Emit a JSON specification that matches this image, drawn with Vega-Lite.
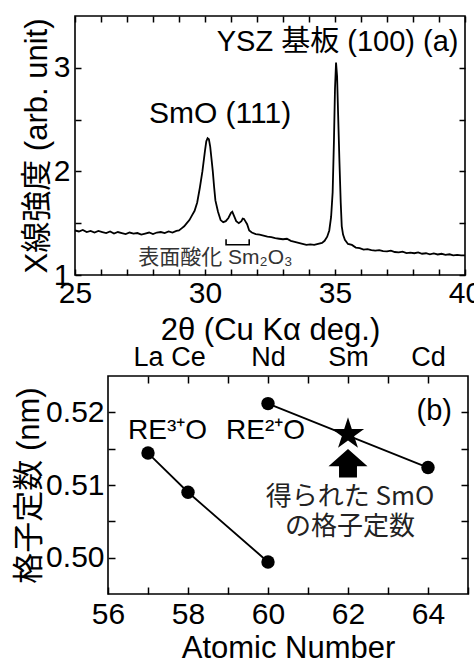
{
  "$schema": "https://vega.github.io/schema/vega-lite/v6.json",
  "padding": {"left": 13, "top": 14, "right": 4, "bottom": 0},
  "spacing": -3,
  "columns": 1,
  "align": "none",
  "config": {
    "font": "Liberation Sans, Noto Sans CJK JP, sans-serif",
    "view": {"stroke": "black", "strokeWidth": 1.6},
    "axis": {
      "grid": false,
      "domain": false,
      "tickColor": "black",
      "tickWidth": 1.5,
      "tickSize": -6,
      "labelColor": "black",
      "titleColor": "black",
      "labelFont": "Liberation Sans, Noto Sans CJK JP, sans-serif",
      "titleFont": "Liberation Sans, Noto Sans CJK JP, sans-serif",
      "titleFontWeight": "normal",
      "labelFontSize": 30,
      "titleFontSize": 31,
      "labelPadding": 11
    },
    "text": {"font": "Liberation Sans, Noto Sans CJK JP, sans-serif", "color": "black"}
  },
  "datasets": {
    "xrd": [
      {"two_theta": 25.0, "intensity": 1.43},
      {"two_theta": 25.15, "intensity": 1.42},
      {"two_theta": 25.3, "intensity": 1.435},
      {"two_theta": 25.45, "intensity": 1.415},
      {"two_theta": 25.6, "intensity": 1.425},
      {"two_theta": 25.75, "intensity": 1.41},
      {"two_theta": 25.9, "intensity": 1.425},
      {"two_theta": 26.05, "intensity": 1.415},
      {"two_theta": 26.2, "intensity": 1.405},
      {"two_theta": 26.35, "intensity": 1.42},
      {"two_theta": 26.5, "intensity": 1.40},
      {"two_theta": 26.65, "intensity": 1.415},
      {"two_theta": 26.8, "intensity": 1.405},
      {"two_theta": 26.95, "intensity": 1.395},
      {"two_theta": 27.1, "intensity": 1.41},
      {"two_theta": 27.25, "intensity": 1.40},
      {"two_theta": 27.4, "intensity": 1.405},
      {"two_theta": 27.55, "intensity": 1.39},
      {"two_theta": 27.7, "intensity": 1.40},
      {"two_theta": 27.85, "intensity": 1.41},
      {"two_theta": 28.0, "intensity": 1.395},
      {"two_theta": 28.15, "intensity": 1.41},
      {"two_theta": 28.3, "intensity": 1.415},
      {"two_theta": 28.45, "intensity": 1.405},
      {"two_theta": 28.6, "intensity": 1.42},
      {"two_theta": 28.75, "intensity": 1.41},
      {"two_theta": 28.9, "intensity": 1.425},
      {"two_theta": 29.0, "intensity": 1.43},
      {"two_theta": 29.1, "intensity": 1.45},
      {"two_theta": 29.2, "intensity": 1.47},
      {"two_theta": 29.3, "intensity": 1.50},
      {"two_theta": 29.4, "intensity": 1.53},
      {"two_theta": 29.5, "intensity": 1.575},
      {"two_theta": 29.6, "intensity": 1.62},
      {"two_theta": 29.7, "intensity": 1.70},
      {"two_theta": 29.8, "intensity": 1.84},
      {"two_theta": 29.9, "intensity": 2.00},
      {"two_theta": 30.0, "intensity": 2.20},
      {"two_theta": 30.05, "intensity": 2.29},
      {"two_theta": 30.1, "intensity": 2.32},
      {"two_theta": 30.15, "intensity": 2.31},
      {"two_theta": 30.2, "intensity": 2.24},
      {"two_theta": 30.25, "intensity": 2.12},
      {"two_theta": 30.3, "intensity": 2.00},
      {"two_theta": 30.35, "intensity": 1.85},
      {"two_theta": 30.4, "intensity": 1.72},
      {"two_theta": 30.5, "intensity": 1.61},
      {"two_theta": 30.6, "intensity": 1.53},
      {"two_theta": 30.7, "intensity": 1.51},
      {"two_theta": 30.8, "intensity": 1.52},
      {"two_theta": 30.9, "intensity": 1.55},
      {"two_theta": 31.0, "intensity": 1.60},
      {"two_theta": 31.05, "intensity": 1.61},
      {"two_theta": 31.1, "intensity": 1.58},
      {"two_theta": 31.2, "intensity": 1.52},
      {"two_theta": 31.3, "intensity": 1.50},
      {"two_theta": 31.4, "intensity": 1.52},
      {"two_theta": 31.45, "intensity": 1.545},
      {"two_theta": 31.5, "intensity": 1.54},
      {"two_theta": 31.55, "intensity": 1.52},
      {"two_theta": 31.62, "intensity": 1.49},
      {"two_theta": 31.7, "intensity": 1.43},
      {"two_theta": 31.8, "intensity": 1.41},
      {"two_theta": 31.95, "intensity": 1.395},
      {"two_theta": 32.1, "intensity": 1.39},
      {"two_theta": 32.25, "intensity": 1.38},
      {"two_theta": 32.4, "intensity": 1.37},
      {"two_theta": 32.55, "intensity": 1.365},
      {"two_theta": 32.7, "intensity": 1.355},
      {"two_theta": 32.85, "intensity": 1.35},
      {"two_theta": 33.0, "intensity": 1.345},
      {"two_theta": 33.15, "intensity": 1.35},
      {"two_theta": 33.3, "intensity": 1.33},
      {"two_theta": 33.45, "intensity": 1.32},
      {"two_theta": 33.6, "intensity": 1.31},
      {"two_theta": 33.75, "intensity": 1.30},
      {"two_theta": 33.9, "intensity": 1.29},
      {"two_theta": 34.05, "intensity": 1.295},
      {"two_theta": 34.2, "intensity": 1.29},
      {"two_theta": 34.35, "intensity": 1.30},
      {"two_theta": 34.5, "intensity": 1.31},
      {"two_theta": 34.6, "intensity": 1.33},
      {"two_theta": 34.7, "intensity": 1.37},
      {"two_theta": 34.78, "intensity": 1.43},
      {"two_theta": 34.85, "intensity": 1.56},
      {"two_theta": 34.91, "intensity": 1.80},
      {"two_theta": 34.96, "intensity": 2.30},
      {"two_theta": 35.0, "intensity": 2.80},
      {"two_theta": 35.04, "intensity": 3.05},
      {"two_theta": 35.08, "intensity": 2.92},
      {"two_theta": 35.12, "intensity": 2.55},
      {"two_theta": 35.17, "intensity": 2.10},
      {"two_theta": 35.22, "intensity": 1.70},
      {"two_theta": 35.26, "intensity": 1.47},
      {"two_theta": 35.31, "intensity": 1.39},
      {"two_theta": 35.38, "intensity": 1.34},
      {"two_theta": 35.5, "intensity": 1.30},
      {"two_theta": 35.65, "intensity": 1.29},
      {"two_theta": 35.8, "intensity": 1.265},
      {"two_theta": 35.95, "intensity": 1.26},
      {"two_theta": 36.1, "intensity": 1.245},
      {"two_theta": 36.25, "intensity": 1.25},
      {"two_theta": 36.4, "intensity": 1.24},
      {"two_theta": 36.55, "intensity": 1.235},
      {"two_theta": 36.7, "intensity": 1.24},
      {"two_theta": 36.85, "intensity": 1.23},
      {"two_theta": 37.0, "intensity": 1.228},
      {"two_theta": 37.15, "intensity": 1.235},
      {"two_theta": 37.3, "intensity": 1.222},
      {"two_theta": 37.45, "intensity": 1.218},
      {"two_theta": 37.6, "intensity": 1.225},
      {"two_theta": 37.75, "intensity": 1.212},
      {"two_theta": 37.9, "intensity": 1.215},
      {"two_theta": 38.05, "intensity": 1.21},
      {"two_theta": 38.2, "intensity": 1.218},
      {"two_theta": 38.35, "intensity": 1.205},
      {"two_theta": 38.5, "intensity": 1.21},
      {"two_theta": 38.65, "intensity": 1.20},
      {"two_theta": 38.8, "intensity": 1.208},
      {"two_theta": 38.95, "intensity": 1.198},
      {"two_theta": 39.1, "intensity": 1.205},
      {"two_theta": 39.25, "intensity": 1.195},
      {"two_theta": 39.4, "intensity": 1.20},
      {"two_theta": 39.55, "intensity": 1.19},
      {"two_theta": 39.7, "intensity": 1.195},
      {"two_theta": 39.85, "intensity": 1.19},
      {"two_theta": 40.0, "intensity": 1.19}
    ],
    "bracket": [
      {"two_theta": 30.81, "intensity": 1.344, "step": 1},
      {"two_theta": 30.81, "intensity": 1.292, "step": 2},
      {"two_theta": 31.70, "intensity": 1.292, "step": 3},
      {"two_theta": 31.70, "intensity": 1.344, "step": 4}
    ],
    "peak_labels": [
      {"two_theta": 39.75, "intensity": 3.25, "label": "YSZ 基板 (100) (a)", "anchor": "right"},
      {"two_theta": 30.58, "intensity": 2.55, "label": "SmO (111)", "anchor": "center"}
    ],
    "oxide_label": [
      {"two_theta": 30.4, "intensity": 1.165, "label": "表面酸化 Sm₂O₃"}
    ],
    "frame_b": [
      {"an_min": 56, "an_max": 65, "lc_min": 0.495, "lc_max": 0.525}
    ],
    "lattice": [
      {"atomic_number": 57, "lattice_nm": 0.5144, "series": "RE3+O"},
      {"atomic_number": 58, "lattice_nm": 0.5090, "series": "RE3+O"},
      {"atomic_number": 60, "lattice_nm": 0.4994, "series": "RE3+O"},
      {"atomic_number": 60, "lattice_nm": 0.5212, "series": "RE2+O"},
      {"atomic_number": 64, "lattice_nm": 0.5124, "series": "RE2+O"}
    ],
    "obtained": [
      {"atomic_number": 62, "lattice_nm": 0.5170}
    ],
    "arrow": [
      {"atomic_number": 62, "lattice_nm": 0.5130}
    ],
    "series_labels": [
      {"atomic_number": 56.5, "lattice_nm": 0.5175, "label": "RE³⁺O"},
      {"atomic_number": 58.95, "lattice_nm": 0.5175, "label": "RE²⁺O"}
    ],
    "panel_b_label": [
      {"atomic_number": 64.6, "lattice_nm": 0.5202, "label": "(b)"}
    ],
    "obtained_label": [
      {"atomic_number": 62.05, "lattice_nm": 0.5083, "label": ["得られた SmO", "の格子定数"]}
    ]
  },
  "concat": [
    {
      "width": 390,
      "height": 259,
      "layer": [
        {
          "data": {"name": "xrd"},
          "mark": {"type": "line", "color": "black", "strokeWidth": 1.8, "clip": true},
          "encoding": {
            "x": {
              "field": "two_theta", "type": "quantitative",
              "scale": {"domain": [25, 40], "nice": false, "zero": false},
              "axis": {
                "orient": "bottom",
                "values": [25,26,27,28,29,30,31,32,33,34,35,36,37,38,39,40],
                "labelExpr": "datum.value % 5 === 0 ? datum.label : ''",
                "labelFlush": false,
                "labelPadding": 9,
                "title": "2θ (Cu Kα deg.)",
                "titlePadding": 7
              }
            },
            "y": {
              "field": "intensity", "type": "quantitative",
              "scale": {"domain": [1, 3.5], "nice": false, "zero": false},
              "axis": {
                "orient": "left",
                "values": [1, 1.5, 2, 2.5, 3],
                "labelExpr": "datum.value % 1 === 0 ? format(datum.value, 'd') : ''",
                "title": "X線強度 (arb. unit)",
                "titlePadding": 0
              }
            }
          }
        },
        {
          "data": {"name": "bracket"},
          "mark": {"type": "line", "color": "black", "strokeWidth": 1.6},
          "encoding": {
            "x": {"field": "two_theta", "type": "quantitative",
              "axis": {"orient": "top", "values": [25,26,27,28,29,30,31,32,33,34,35,36,37,38,39,40], "labels": false, "title": null}},
            "y": {"field": "intensity", "type": "quantitative",
              "axis": {"orient": "right", "values": [1, 1.5, 2, 2.5, 3], "labels": false, "title": null}},
            "order": {"field": "step", "type": "quantitative"}
          }
        },
        {
          "data": {"name": "peak_labels"},
          "transform": [{"filter": "datum.anchor === 'right'"}],
          "mark": {"type": "text", "fontSize": 29, "align": "right", "baseline": "middle"},
          "encoding": {
            "x": {"field": "two_theta", "type": "quantitative", "axis": null},
            "y": {"field": "intensity", "type": "quantitative", "axis": null},
            "text": {"field": "label"}
          }
        },
        {
          "data": {"name": "peak_labels"},
          "transform": [{"filter": "datum.anchor === 'center'"}],
          "mark": {"type": "text", "fontSize": 30, "align": "center", "baseline": "middle"},
          "encoding": {
            "x": {"field": "two_theta", "type": "quantitative", "axis": null},
            "y": {"field": "intensity", "type": "quantitative", "axis": null},
            "text": {"field": "label"}
          }
        },
        {
          "data": {"name": "oxide_label"},
          "mark": {"type": "text", "fontSize": 21, "align": "center", "baseline": "middle", "color": "#333333"},
          "encoding": {
            "x": {"field": "two_theta", "type": "quantitative", "axis": null},
            "y": {"field": "intensity", "type": "quantitative", "axis": null},
            "text": {"field": "label"}
          }
        }
      ]
    },
    {
      "width": 393,
      "height": 218,
      "view": {"stroke": null},
      "layer": [
        {
          "data": {"name": "frame_b"},
          "mark": {"type": "rect", "filled": false, "color": "black", "strokeWidth": 1.6},
          "encoding": {
            "x": {"field": "an_min", "type": "quantitative", "axis": null},
            "x2": {"field": "an_max"},
            "y": {"field": "lc_min", "type": "quantitative", "axis": null},
            "y2": {"field": "lc_max"}
          }
        },
        {
          "data": {"name": "lattice"},
          "mark": {"type": "line", "color": "black", "strokeWidth": 1.8},
          "encoding": {
            "x": {
              "field": "atomic_number", "type": "quantitative",
              "scale": {"domain": [55.175, 65], "nice": false, "zero": false},
              "axis": {
                "orient": "bottom",
                "values": [56,57,58,59,60,61,62,63,64,65],
                "labelExpr": "datum.value % 2 === 0 ? datum.label : ''",
                "labelFlush": false,
                "tickSize": -7,
                "labelPadding": 12,
                "title": "Atomic Number",
                "titleX": 213,
                "titlePadding": 4
              }
            },
            "y": {
              "field": "lattice_nm", "type": "quantitative",
              "scale": {"domain": [0.495, 0.525], "nice": false, "zero": false},
              "axis": {
                "orient": "left",
                "offset": -33,
                "values": [0.5, 0.505, 0.51, 0.515, 0.52],
                "labelExpr": "round(datum.value * 1000) % 10 === 0 ? format(datum.value, '.2f') : ''",
                "tickSize": -7,
                "labelPadding": 11,
                "title": "格子定数 (nm)",
                "titlePadding": 0
              }
            },
            "detail": {"field": "series", "type": "nominal"}
          }
        },
        {
          "data": {"name": "lattice"},
          "mark": {"type": "point", "shape": "circle", "filled": true, "color": "black", "opacity": 1, "size": 180},
          "encoding": {
            "x": {"field": "atomic_number", "type": "quantitative",
              "axis": {
                "orient": "top",
                "values": [57,58,59,60,61,62,63,64],
                "labelExpr": "datum.value === 57 ? 'La' : datum.value === 58 ? 'Ce' : datum.value === 60 ? 'Nd' : datum.value === 62 ? 'Sm' : datum.value === 64 ? 'Cd' : ''",
                "labelFontSize": 27,
                "tickSize": -7,
                "labelPadding": 12,
                "title": null
              }},
            "y": {"field": "lattice_nm", "type": "quantitative",
              "axis": {"orient": "right", "values": [0.5, 0.505, 0.51, 0.515, 0.52], "tickSize": -7, "labels": false, "title": null}}
          }
        },
        {
          "data": {"name": "obtained"},
          "mark": {"type": "point", "shape": "M0,-1L0.2245,-0.309L0.951,-0.309L0.363,0.118L0.588,0.809L0,0.382L-0.588,0.809L-0.363,0.118L-0.951,-0.309L-0.2245,-0.309Z", "filled": true, "color": "black", "opacity": 1, "size": 1150},
          "encoding": {
            "x": {"field": "atomic_number", "type": "quantitative", "axis": null},
            "y": {"field": "lattice_nm", "type": "quantitative", "axis": null}
          }
        },
        {
          "data": {"name": "arrow"},
          "mark": {"type": "point", "shape": "M0,-0.73L1,0.16L0.46,0.16L0.46,0.73L-0.46,0.73L-0.46,0.16L-1,0.16Z", "filled": true, "color": "black", "opacity": 1, "size": 1521},
          "encoding": {
            "x": {"field": "atomic_number", "type": "quantitative", "axis": null},
            "y": {"field": "lattice_nm", "type": "quantitative", "axis": null}
          }
        },
        {
          "data": {"name": "series_labels"},
          "mark": {"type": "text", "fontSize": 28, "align": "left", "baseline": "middle"},
          "encoding": {
            "x": {"field": "atomic_number", "type": "quantitative", "axis": null},
            "y": {"field": "lattice_nm", "type": "quantitative", "axis": null},
            "text": {"field": "label"}
          }
        },
        {
          "data": {"name": "panel_b_label"},
          "mark": {"type": "text", "fontSize": 29, "align": "right", "baseline": "middle"},
          "encoding": {
            "x": {"field": "atomic_number", "type": "quantitative", "axis": null},
            "y": {"field": "lattice_nm", "type": "quantitative", "axis": null},
            "text": {"field": "label"}
          }
        },
        {
          "data": {"name": "obtained_label"},
          "mark": {"type": "text", "fontSize": 26, "align": "center", "baseline": "middle", "lineHeight": 30, "font": "Noto Sans CJK JP", "color": "#222222"},
          "encoding": {
            "x": {"field": "atomic_number", "type": "quantitative", "axis": null},
            "y": {"field": "lattice_nm", "type": "quantitative", "axis": null},
            "text": {"field": "label"}
          }
        }
      ]
    }
  ]
}
